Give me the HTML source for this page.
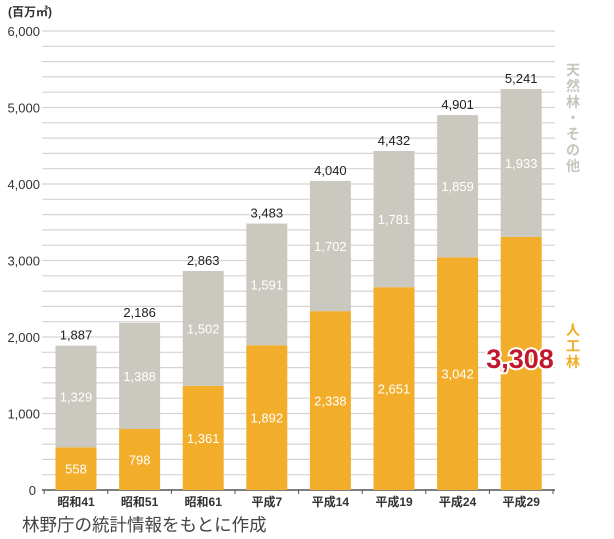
<!DOCTYPE html>
<html><head><meta charset="utf-8"><style>
body{margin:0;background:#fff;}
svg{display:block;font-family:"Liberation Sans","Noto Sans CJK JP",sans-serif;}
</style></head><body>
<svg id="c" width="614" height="539">
<text x="8" y="16" font-size="12" font-weight="bold" fill="#333">(百万㎥)</text>
<g id="grid"></g><g id="bars"></g><g id="labels"></g>
<text x="22" y="531" font-size="17.5" fill="#444">林野庁の統計情報をもとに作成</text>
<text x="573" y="75" font-size="14" font-weight="bold" fill="#c8c6bc" text-anchor="middle"><tspan x="573" dy="0">天</tspan><tspan x="573" dy="16">然</tspan><tspan x="573" dy="16">林</tspan><tspan x="573" dy="16">・</tspan><tspan x="573" dy="16">そ</tspan><tspan x="573" dy="16">の</tspan><tspan x="573" dy="16">他</tspan></text>
<text x="573" y="335" font-size="14" font-weight="bold" fill="#f2ae2a" text-anchor="middle"><tspan x="573" dy="0">人</tspan><tspan x="573" dy="16">工</tspan><tspan x="573" dy="16">林</tspan></text>
<text x="520" y="368" font-size="27" font-weight="bold" fill="#c0182f" stroke="#fff" stroke-width="4" paint-order="stroke" text-anchor="middle">3,308</text>
</svg>
<script>
const categories=["昭和41","昭和51","昭和61","平成7","平成14","平成19","平成24","平成29"];
const plantation=[558,798,1361,1892,2338,2651,3042,3308];
const natural=[1329,1388,1502,1591,1702,1781,1859,1933];
const totals=[1887,2186,2863,3483,4040,4432,4901,5241];
const yTicks=[0,1000,2000,3000,4000,5000,6000];
const NS="http://www.w3.org/2000/svg";
const y=v=>490-v*0.0765;
const x=i=>76+i*63.6;
const fmt=v=>v.toLocaleString("en-US");
function mk(p,tag,a,txt){const e=document.createElementNS(NS,tag);for(const k in a)e.setAttribute(k,a[k]);if(txt!==undefined)e.textContent=txt;document.getElementById(p).appendChild(e);return e;}
for(let v=200;v<=6000;v+=200){
 const g=mk("grid","line",{x1:42,x2:555,y1:y(v),y2:y(v),stroke:"#d4d4d4","stroke-width":1.2});
 
 
}
yTicks.forEach(v=>{
 const t=mk("grid","text",{x:v===0?36:40,y:y(v)+5,"font-size":13,fill:"#333","text-anchor":"end"},fmt(v));
 
 
});
const ax=mk("grid","line",{x1:42,x2:555,y1:490,y2:490,stroke:"#555","stroke-width":1.5});


for(let i=0;i<=categories.length;i++){
 const tk=mk("grid","line",{x1:x(i)-31.8,x2:x(i)-31.8,y1:490,y2:494,stroke:"#555"});
 
 
}
categories.forEach((c,i)=>{
 const cx=x(i),w=41;
 const b1=mk("bars","rect",{x:cx-w/2,y:y(plantation[i]),width:w,height:490-y(plantation[i]),fill:"#f2ae2a"});
 
 
 const top=plantation[i]+natural[i];
 const b2=mk("bars","rect",{x:cx-w/2,y:y(top),width:w,height:y(plantation[i])-y(top),fill:"#cbc9bf"});
 
 
 const l1=mk("labels","text",{x:cx,y:y(plantation[i]/2)+5,"font-size":13,fill:"#fff","text-anchor":"middle"},fmt(plantation[i]));
 
 
 if(i===categories.length-1)l1.setAttribute('visibility','hidden');
 const l2=mk("labels","text",{x:cx,y:y(plantation[i]+natural[i]/2)+5,"font-size":13,fill:"#fff","text-anchor":"middle"},fmt(natural[i]));
 
 
 const l3=mk("labels","text",{x:cx,y:y(totals[i])-6,"font-size":13,fill:"#222","text-anchor":"middle"},fmt(totals[i]));
 
 
 const cl=mk("labels","text",{x:cx,y:506,"font-size":12,"font-weight":"bold",fill:"#333","text-anchor":"middle"},c);
 
 
});
</script>
</body></html>
